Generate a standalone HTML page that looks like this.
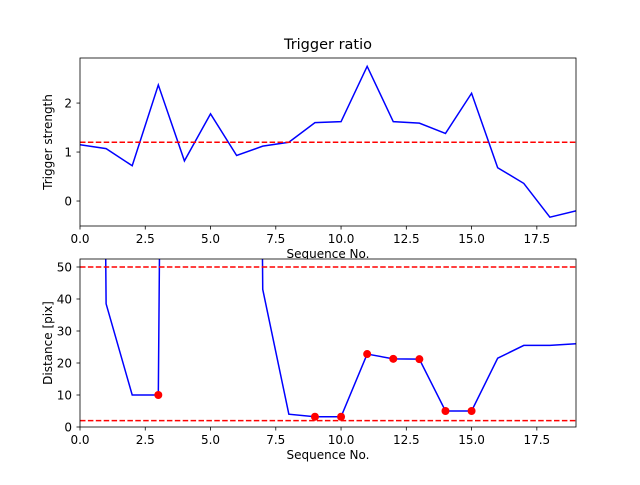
<!DOCTYPE html>
<html><head><meta charset="utf-8"><style>
body{margin:0;background:#fff}
svg text{font-family:"DejaVu Sans","Liberation Sans",sans-serif;fill:#000}
</style></head><body>
<svg id="chart" width="640" height="480" xmlns="http://www.w3.org/2000/svg">
<defs>
<clipPath id="c1"><rect x="80" y="58" width="496" height="168"/></clipPath>
<clipPath id="c2"><rect x="80" y="259" width="496" height="168"/></clipPath>
</defs>
<text x="328" y="49" font-size="14.5" text-anchor="middle">Trigger ratio</text>
<g id="top"></g><g id="bot"></g>
</svg>
<script>
const seq=[0,1,2,3,4,5,6,7,8,9,10,11,12,13,14,15,16,17,18,19];
const strength=[1.15,1.07,0.72,2.37,0.82,1.78,0.93,1.12,1.2,1.6,1.62,2.75,1.62,1.59,1.38,2.2,0.68,0.36,-0.33,-0.2];
const strengthThreshold=1.2;
const distance=[1000,38.5,10,10,1000,1000,1000,43,4,3.2,3.2,22.8,21.3,21.2,5,5,21.5,25.5,25.5,26];
const distMarked=[3,9,10,11,12,13,14,15];
const distThresholds=[50,2];
const xTicks=[0,2.5,5,7.5,10,12.5,15,17.5];
const xTickLabels=["0.0","2.5","5.0","7.5","10.0","12.5","15.0","17.5"];
const topYTicks=[0,1,2];
const botYTicks=[0,10,20,30,40,50];
const NS="http://www.w3.org/2000/svg";
function el(p,t,a){const e=document.createElementNS(NS,t);for(const k in a)e.setAttribute(k,a[k]);p.appendChild(e);return e;}
const X=v=>80+v*(496/19);
function panel(g,top,ymin,ymax,yticks,ylabel,vals,clip,pfx){
  const Y=v=>top+168-(v-ymin)/(ymax-ymin)*168;
  const bg=el(g,'rect',{x:80,y:top,width:496,height:168,fill:'#fff'});
  
  
  xTicks.forEach((t,i)=>{
    el(g,'line',{x1:X(t),x2:X(t),y1:top+168,y2:top+171.5,stroke:'#000','stroke-width':0.8});
    const tx=el(g,'text',{x:X(t),y:top+185,'font-size':12,'text-anchor':'middle'});tx.textContent=xTickLabels[i];
    
    
  });
  yticks.forEach(t=>{
    el(g,'line',{x1:76.5,x2:80,y1:Y(t),y2:Y(t),stroke:'#000','stroke-width':0.8});
    const tx=el(g,'text',{x:72,y:Y(t)+4.5,'font-size':12,'text-anchor':'end'});tx.textContent=t;
    
    
  });
  const cg=el(g,'g',{'clip-path':'url(#'+clip+')'});
  const line=el(cg,'polyline',{points:vals.map((v,i)=>X(seq[i])+','+Y(v)).join(' '),fill:'none',stroke:'#0000ff','stroke-width':1.5});
  
  
  const fr=el(g,'rect',{x:80,y:top,width:496,height:168,fill:'none',stroke:'#000','stroke-width':0.8});
  
  
  const xl=el(g,'text',{x:328,y:top+200,'font-size':12,'text-anchor':'middle'});xl.textContent='Sequence No.';
  
  
  const yl=el(g,'text',{x:0,y:0,'font-size':12,'text-anchor':'middle',transform:'translate(52,'+(top+84)+') rotate(-90)'});yl.textContent=ylabel;
  
  
  return {Y,cg};
}
const gt=document.getElementById('top'),gb=document.getElementById('bot');
const p1=panel(gt,58,-0.51,2.92,topYTicks,'Trigger strength',strength,'c1','top');
const d1=el(p1.cg,'line',{x1:80,x2:576,y1:p1.Y(strengthThreshold),y2:p1.Y(strengthThreshold),stroke:'#ff0000','stroke-width':1.5,'stroke-dasharray':'5.5,2.4'});


const p2=panel(gb,259,0,52.5,botYTicks,'Distance [pix]',distance,'c2','bottom');
distThresholds.forEach(t=>{
  const d=el(p2.cg,'line',{x1:80,x2:576,y1:p2.Y(t),y2:p2.Y(t),stroke:'#ff0000','stroke-width':1.5,'stroke-dasharray':'5.5,2.4'});
  
  
});
distMarked.forEach(i=>{
  const c=el(p2.cg,'circle',{cx:X(seq[i]),cy:p2.Y(distance[i]),r:4,fill:'#ff0000'});
  
  
});
</script>
</body></html>
